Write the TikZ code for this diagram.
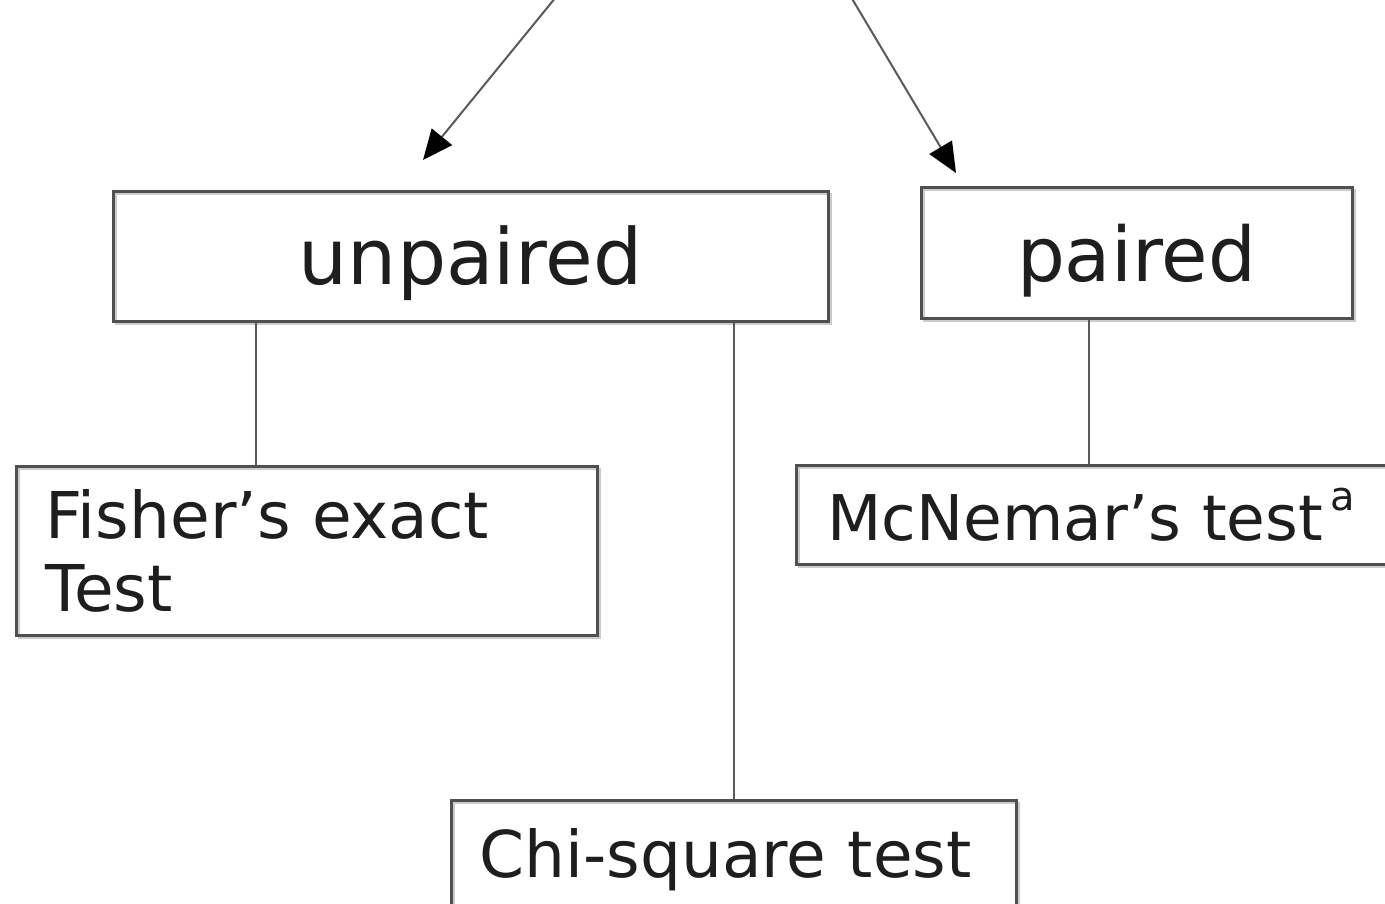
\documentclass[tikz,border=0pt]{standalone}
\usepackage{fontspec}
\setmainfont{DejaVu Sans}
\usetikzlibrary{arrows.meta}
\definecolor{boxgray}{HTML}{505050}
\definecolor{shadowgray}{HTML}{CCCCCC}
\definecolor{linegray}{HTML}{5A5A5A}
\definecolor{ink}{HTML}{1E1E1E}
\newcommand{\bigtxt}[1]{\fontsize{#1}{80pt}\selectfont}
\newcommand{\midtxt}[1]{\fontsize{#1}{73pt}\selectfont}
\begin{document}
\begin{tikzpicture}[x=1pt,y=-1pt,
  box/.style={rectangle, draw=boxgray, line width=3pt, inner sep=0pt, text=ink,
    preaction={draw=shadowgray, line width=2pt, transform canvas={shift={(2.5pt,-2.5pt)}}}},
  leftbox/.style={box, anchor=north west, align=left},
  conn/.style={draw=linegray, line width=2pt},
  arr/.style={draw=linegray, line width=2pt, -{Triangle[length=30pt,width=26pt,color=black]}}]
\useasboundingbox (0,0) rectangle (1385,904);
\fill[white] (0,0) rectangle (1385,904);
\clip (0,0) rectangle (1385,904);

% top level categories
\node[box, minimum width=715pt, minimum height=129pt, font=\bigtxt{77.5pt},
      text height=60pt, text depth=3pt] (unpaired) at (470.5,256.5) {unpaired};
\node[box, minimum width=431pt, minimum height=130pt, font=\bigtxt{75.5pt},
      text height=60pt, text depth=2pt] (paired) at (1136.5,253) {paired};

% tests
\node[leftbox, font=\midtxt{64.5pt}, text width=523pt, inner xsep=29pt, minimum height=169pt]
      (fisher) at (15,465) {Fisher’s exact\\Test};
\node[leftbox, font=\midtxt{63pt}, text width=700pt, inner xsep=31pt, minimum height=99pt]
      (mcnemar) at (795,464)
      {McNemar’s test\hspace{7pt}\raisebox{30pt}{\fontsize{40pt}{40pt}\selectfont a}};
\node[leftbox, font=\midtxt{64.5pt}, text width=509pt, inner xsep=28pt, minimum height=119pt]
      (chi) at (450,799) {Chi-square test};

% connectors
\coordinate (fx) at (256,0);
\coordinate (px) at (1089,0);
\draw[conn] (unpaired.south -| fx) -- (fisher.north -| fx);
\draw[conn] (chi.north) -- (chi.north |- unpaired.south);
\draw[conn] (paired.south -| px) -- (mcnemar.north -| px);

% incoming arrows
\coordinate (s1) at (556,-3);
\coordinate (t1) at (423,160);
\coordinate (s2) at (851,-3);
\coordinate (t2) at (956,173);
\draw[arr] (s1) -- (t1);
\draw[arr] (s2) -- (t2);
\end{tikzpicture}
\end{document}
